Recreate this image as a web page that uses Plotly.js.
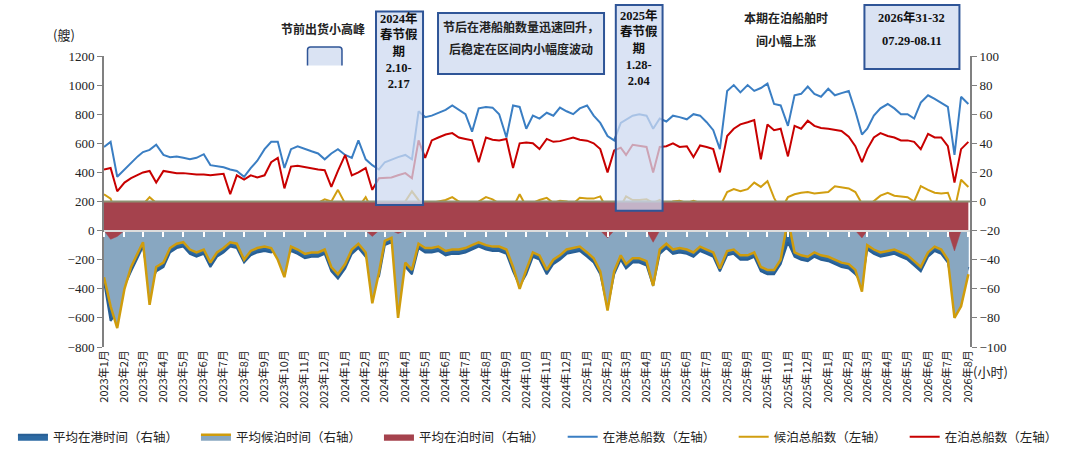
<!DOCTYPE html>
<html>
<head>
<meta charset="utf-8">
<script src="https://cdn.plot.ly/plotly-3.0.1.min.js"></script>
<style>
  html, body { margin: 0; padding: 0; background: #fff; }
  #chart { width: 1080px; height: 453px; }
</style>
</head>
<body>
<div id="chart"></div>
<script>
// 10-day grid: 1st, 11th, 21st of each month, 2023-01-01 .. 2026-08-01
var dates = [];
for (var yr = 2023; yr <= 2026; yr++) {
  for (var mo = 1; mo <= 12; mo++) {
    [1, 11, 21].forEach(function (d) {
      if (yr === 2026 && (mo > 8 || (mo === 8 && d > 1))) return;
      dates.push(yr + '-' + String(mo).padStart(2, '0') + '-' + String(d).padStart(2, '0'));
    });
  }
}

// month tick labels
var tickVals = [], tickText = [];
for (var y = 2023; y <= 2026; y++) {
  for (var m = 1; m <= 12; m++) {
    if (y === 2026 && m > 8) break;
    tickVals.push(y + '-' + String(m).padStart(2, '0') + '-01');
    tickText.push(y + '年' + m + '月');
  }
}

// 在港总船数（左轴）
var portShips = [
  575,610,370, 420,470,510, 540,555,590, 520,505,510, 500,490,500, 525,450,445, 435,420,410, 370,430,480, 560,610,610, 430,560,580, 560,545,530, 490,530,560,
  520,500,620, 490,450,420, 470,490,505, 520,490,820, 780,790,810, 830,860,830, 800,680,840, 850,845,800, 640,860,850, 700,790,770, 810,790,845, 820,800,840,
  860,790,740, 650,620,740, 760,790,800, 790,700,770, 750,790,780, 765,800,790, 745,690,560, 960,1000,950, 1000,960,980, 1010,870,860, 720,930,940, 990,940,920,
  975,930,945, 960,820,660, 700,790,840, 870,840,800, 800,770,880, 930,905,880, 850,520,920, 870
];
// 在泊总船数（左轴）
var berthShips = [
  420,430,270, 330,360,385, 400,410,330, 410,400,395, 395,390,385, 385,380,385, 390,250,380, 350,380,365, 380,470,500, 290,440,445, 435,430,420, 415,300,410,
  520,380,400, 430,280,360, 360,365,380, 395,360,620, 500,620,640, 660,670,640, 630,620,470, 640,625,620, 630,430,600, 605,600,560, 630,610,615, 630,640,625,
  618,600,560, 400,550,570, 520,590,585, 575,400,575, 580,600,575, 580,505,585, 575,560,400, 650,700,730, 745,760,490, 730,690,700, 510,720,700, 755,720,705,
  700,690,685, 645,580,470, 560,640,670, 650,640,620, 620,610,560, 665,640,640, 580,330,560, 610
];
// 候泊总船数（左轴）
var anchorShips = [
  250,220,95, 110,130,150, 180,230,190, 150,120,110, 105,115,160, 130,90,60, 40,35,30, 10,130,100, 120,185,160, 70,180,150, 140,175,190, 215,200,280,
  185,170,160, 230,140,115, 130,160,50, 200,270,210, 100,190,200, 210,230,200, 180,150,200, 230,215,185, 170,160,250, 165,190,210, 225,190,205, 200,185,225,
  220,220,235, 140,115,170, 235,210,210, 215,190,210, 155,200,205, 190,205,190, 195,185,165, 265,285,270, 285,330,300, 340,225,140, 230,250,260, 265,255,260,
  265,305,300, 290,265,185, 165,200,240, 260,240,235, 230,200,305, 280,260,255, 260,140,350, 300
];
// 平均在港时间（右轴，按图中位置读数）
var portTime = [
  -55,-82,-76, -58,-48,-38, -31,-58,-48, -45,-35,-32, -31,-36,-38, -36,-45,-38, -35,-31,-32, -42,-37,-35, -34,-35,-33, -40,-34,-36, -39,-38,-38, -36,-48,-53,
  -46,-36,-32, -38,-45,-52, -30,-28,-38, -45,-50,-32, -35,-35,-34, -37,-36,-36, -35,-33,-31, -33,-34,-34, -36,-48,-58, -50,-38,-40, -50,-43,-40, -36,-35,-34,
  -38,-42,-50, -73,-50,-40, -46,-42,-42, -44,-58,-36, -32,-36,-35, -36,-38,-34, -36,-38,-48, -37,-36,-40, -40,-38,-48, -50,-50,-43, -28,-38,-40, -41,-38,-40,
  -41,-43,-45, -46,-50,-56, -33,-36,-38, -37,-36,-38, -40,-44,-48, -38,-34,-36, -42,-64,-60, -45
];
// 平均候泊时间（右轴）
var waitTime = [
  -52,-72,-87, -60,-45,-35, -28,-71,-45, -42,-32,-29, -28,-33,-35, -33,-42,-35, -32,-28,-29, -40,-34,-32, -31,-32,-40, -52,-31,-33, -36,-35,-35, -33,-45,-50,
  -43,-33,-29, -35,-70,-49, -27,-25,-80, -42,-47,-29, -32,-32,-31, -34,-33,-33, -32,-30,-28, -30,-31,-31, -33,-45,-60, -47,-35,-37, -47,-40,-37, -33,-32,-31,
  -35,-39,-48, -75,-48,-37, -43,-39,-39, -41,-58,-33, -29,-33,-32, -33,-35,-31, -33,-35,-46, -34,-33,-37, -37,-35,-45, -47,-47,-40, -12,-35,-37, -38,-35,-37,
  -38,-40,-42, -43,-47,-62, -30,-33,-35, -34,-33,-35, -37,-41,-45, -35,-31,-33, -40,-80,-72, -50
];
// 平均在泊时间（右轴）
var berthTime = [
  -20,-26,-24, -20,-20,-20, -20,-20,-20, -20,-20,-20, -20,-20,-20, -20,-20,-20, -20,-20,-20, -20,-20,-20, -20,-20,-20, -20,-20,-20, -20,-20,-20, -20,-20,-20,
  -20,-20,-20, -20,-24,-20, -20,-20,-22, -20,-20,-20, -20,-20,-20, -20,-20,-20, -20,-20,-20, -20,-20,-20, -20,-20,-20, -20,-20,-20, -20,-20,-20, -20,-20,-20,
  -20,-20,-20, -25,-20,-20, -20,-20,-20, -20,-28,-20, -20,-20,-20, -20,-20,-20, -20,-20,-20, -20,-20,-20, -20,-20,-20, -20,-20,-20, -20,-20,-20, -20,-20,-20,
  -20,-20,-20, -20,-20,-25, -20,-20,-20, -20,-20,-20, -20,-20,-20, -20,-20,-20, -20,-34,-20, -20
];

var base20 = dates.map(function () { return -20; });
var base0 = dates.map(function () { return 0; });

var sans = 'Noto Sans CJK SC, Liberation Sans, sans-serif';
var serif = 'Liberation Serif, Noto Sans CJK SC, serif';

var data = [
  { x: dates, y: base20, yaxis: 'y2', mode: 'lines', line: { width: 0 }, showlegend: false, hoverinfo: 'skip' },
  { name: '平均在港时间（右轴）', x: dates, y: portTime, yaxis: 'y2', mode: 'lines', fill: 'tonexty',
    fillcolor: '#2d6aa3', line: { color: '#285f95', width: 2 }, legendrank: 1 },
  { x: dates, y: base20, yaxis: 'y2', mode: 'lines', line: { width: 0 }, showlegend: false, hoverinfo: 'skip' },
  { name: '平均候泊时间（右轴）', x: dates, y: waitTime, yaxis: 'y2', mode: 'lines', fill: 'tonexty',
    fillcolor: '#88a7c1', line: { color: '#cf9c0c', width: 2.5 }, legendrank: 2 },
  { x: dates, y: base0, yaxis: 'y2', mode: 'lines', line: { width: 0 }, showlegend: false, hoverinfo: 'skip' },
  { name: '平均在泊时间（右轴）', x: dates, y: berthTime, yaxis: 'y2', mode: 'lines', fill: 'tonexty',
    fillcolor: '#a5424d', line: { color: '#a5424d', width: 0.5 }, legendrank: 3 },
  { name: '在港总船数（左轴）', x: dates, y: portShips, mode: 'lines', line: { color: '#3a7ec3', width: 2 }, legend: 'legend2', legendrank: 4 },
  { name: '候泊总船数（左轴）', x: dates, y: anchorShips, mode: 'lines', line: { color: '#d19e10', width: 2 }, legend: 'legend2', legendrank: 5 },
  { name: '在泊总船数（左轴）', x: dates, y: berthShips, mode: 'lines', line: { color: '#c80000', width: 2 }, legend: 'legend2', legendrank: 6 },
  // carrier for the zero-line axis
  { x: [dates[0]], y: [0], xaxis: 'x2', mode: 'markers', marker: { opacity: 0 }, showlegend: false, hoverinfo: 'skip' }
];

var xRange = ['2023-01-01', '2026-08-03 12:00'];
var boxLine = { color: '#2f5597', width: 2 };
var boxFill = 'rgba(205,218,240,0.75)';

function note(text, x, y, font, extra) {
  var a = { text: text, xref: 'paper', yref: 'paper', x: x, y: y, xanchor: 'center', yanchor: 'middle',
            showarrow: false, font: font || { size: 12 } };
  for (var k in (extra || {})) a[k] = extra[k];
  return a;
}
var boldSerif = { family: serif, size: 12.5, color: '#111' };
var legendFont = { family: sans, size: 12.5, color: '#222' };

var layout = {
  width: 1080, height: 453,
  margin: { l: 104, r: 110, t: 56, b: 106 },
  paper_bgcolor: '#fff', plot_bgcolor: '#fff',
  font: { family: sans, size: 12, color: '#222' },
  showlegend: true,
  legend: {
    orientation: 'h', xref: 'container', yref: 'container', x: 0.012, xanchor: 'left', y: 0.035, yanchor: 'middle',
    entrywidth: 138, entrywidthmode: 'pixels', font: legendFont, traceorder: 'normal', itemwidth: 30
  },
  legend2: {
    orientation: 'h', xref: 'container', yref: 'container', x: 0.521, xanchor: 'left', y: 0.035, yanchor: 'middle',
    entrywidth: 126, entrywidthmode: 'pixels', font: legendFont, traceorder: 'normal', itemwidth: 30
  },
  xaxis: {
    type: 'date', range: xRange, tickvals: tickVals, ticktext: tickText, tickangle: -90,
    showline: false, ticks: '', showgrid: false, zeroline: false,
    tickfont: { family: sans, size: 11, color: '#222' }
  },
  xaxis2: {
    type: 'date', range: xRange, overlaying: 'x', anchor: 'free', position: 0.4,
    tickvals: tickVals, showticklabels: false, ticks: 'outside', ticklen: 5, tickwidth: 2,
    tickcolor: '#ffffff', showline: true, linecolor: '#dcdcdc', linewidth: 2, showgrid: false, zeroline: false
  },
  yaxis: {
    range: [-800, 1200], dtick: 200, showline: true, linecolor: '#808080', linewidth: 2,
    ticks: 'outside', ticklen: 5, tickcolor: '#808080', showgrid: false, zeroline: false,
    tickfont: { family: serif, size: 13, color: '#222' }
  },
  yaxis2: {
    range: [-100, 100], dtick: 20, overlaying: 'y', side: 'right', showline: true, linecolor: '#808080', linewidth: 2,
    ticks: 'outside', ticklen: 5, tickcolor: '#808080', showgrid: false, zeroline: false,
    tickfont: { family: serif, size: 13, color: '#222' }
  },
  shapes: [
    // top edge of the berth-time band
    { type: 'line', xref: 'paper', yref: 'y2', x0: 0, x1: 1, y0: 0, y1: 0, line: { color: '#8e8f72', width: 2 }, layer: 'above' },
    // 节前出货小高峰 bracket
    { type: 'path', xref: 'paper', yref: 'paper',
      path: 'M 0.2350,0.9674 L 0.2350,1.0206 Q 0.2350,1.0309 0.2385,1.0309 L 0.2714,1.0309 Q 0.2748,1.0309 0.2748,1.0206 L 0.2748,0.9674',
      fillcolor: '#dae3f3', line: { color: '#2f5597', width: 1.5 }, layer: 'above' },
    { type: 'rect', xref: 'paper', yref: 'paper', x0: 0.3141, x1: 0.3684, y0: 0.4880, y1: 1.1529,
      fillcolor: boxFill, line: boxLine, layer: 'above' },
    { type: 'rect', xref: 'paper', yref: 'paper', x0: 0.3857, x1: 0.5774, y0: 0.9381, y1: 1.1478,
      fillcolor: '#dae3f3', line: boxLine, layer: 'above' },
    { type: 'rect', xref: 'paper', yref: 'paper', x0: 0.5910, x1: 0.6450, y0: 0.4684, y1: 1.1753,
      fillcolor: boxFill, line: boxLine, layer: 'above' },
    { type: 'rect', xref: 'paper', yref: 'paper', x0: 0.8781, x1: 0.9878, y0: 0.9553, y1: 1.1753,
      fillcolor: '#dae3f3', line: boxLine, layer: 'above' }
  ],
  annotations: [
    note('(艘)', -0.0462, 1.0722, { size: 13 }),
    note('(小时)', 1.0242, -0.0859, { size: 13 }),
    note('<b>节前出货小高峰</b>', 0.2529, 1.0945),
    note('<b>2024年<br>春节假<br>期<br>2.10-<br>2.17</b>', 0.3412, 1.1615, boldSerif, { yanchor: 'top' }),
    note('<b>节后在港船舶数量迅速回升，</b>', 0.4815, 1.1014),
    note('<b>后稳定在区间内小幅度波动</b>', 0.4815, 1.0241),
    note('<b>2025年<br>春节假<br>期<br>1.28-<br>2.04</b>', 0.6178, 1.1718, boldSerif, { yanchor: 'top' }),
    note('<b>本期在泊船舶时</b>', 0.7870, 1.1340),
    note('<b>间小幅上涨</b>', 0.7870, 1.0529),
    note('<b>2026年31-32</b>', 0.9330, 1.1306, boldSerif),
    note('<b>07.29-08.11</b>', 0.9330, 1.0529, boldSerif)
  ]
};

Plotly.newPlot('chart', data, layout, { staticPlot: true });
</script>
</body>
</html>
